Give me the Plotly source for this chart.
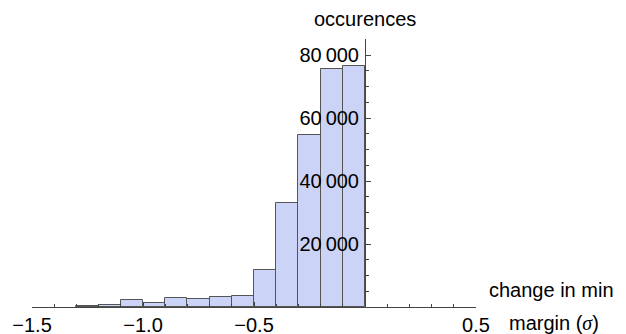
import plotly.graph_objects as go

# Data
bin_left = [-1.3, -1.2, -1.1, -1.0, -0.9, -0.8, -0.7, -0.6, -0.5, -0.4, -0.3, -0.2, -0.1]
bin_width = 0.1
counts = [200, 730, 2200, 1370, 2860, 2630, 3170, 3590, 11600, 33000, 54600, 75500, 76400]

x_tickvals = [-1.5, -1.0, -0.5, 0.5]
x_ticktext = ["\u22121.5", "\u22121.0", "\u22120.5", "0.5"]
y_tickvals = [20000, 40000, 60000, 80000]
y_ticktext = ["20\u2009000", "40\u2009000", "60\u2009000", "80\u2009000"]

centers = [b + bin_width / 2 for b in bin_left]

FONT = "Liberation Sans, Arial, sans-serif"
FS = 20
AX = "#444444"

fig = go.Figure()
fig.add_trace(go.Bar(
    x=centers, y=counts, width=[bin_width] * len(counts),
    marker=dict(color="#CBD3F6", line=dict(color="#555555", width=1)),
    hoverinfo="x+y",
))

fig.update_layout(
    width=626, height=334,
    margin=dict(l=32, r=150, t=39, b=27, autoexpand=False),
    plot_bgcolor="white", paper_bgcolor="white",
    showlegend=False,
    bargap=0,
    font=dict(family=FONT, size=FS, color="black"),
    xaxis=dict(
        range=[-1.5, 0.5], showgrid=False, zeroline=False, automargin=False,
        showline=True, linecolor=AX, linewidth=1,
        tickmode="array", tickvals=x_tickvals, ticktext=x_ticktext,
        ticks="inside", ticklen=5, tickcolor=AX, tickwidth=1,
        minor=dict(tickmode="linear", tick0=0, dtick=0.1, ticks="inside",
                   ticklen=3, tickcolor=AX, tickwidth=1, showgrid=False),
        tickfont=dict(family=FONT, size=FS, color="black"),
        ticklabelstandoff=0,
    ),
    yaxis=dict(
        range=[0, 85080], showgrid=False, zeroline=False, automargin=False,
        anchor="free", position=0.75, side="left",
        showline=True, linecolor=AX, linewidth=1,
        tickmode="array", tickvals=y_tickvals, ticktext=y_ticktext,
        ticks="inside", ticklen=5, tickcolor=AX, tickwidth=1,
        minor=dict(tickmode="linear", tick0=0, dtick=5000, ticks="inside",
                   ticklen=3, tickcolor=AX, tickwidth=1, showgrid=False),
        tickfont=dict(family=FONT, size=FS, color="black"),
        ticklabelstandoff=2,
    ),
)

fig.add_annotation(x=0, xref="x", y=1, yref="paper", yanchor="middle",
                   yshift=20, text="occurences", showarrow=False,
                   font=dict(family=FONT, size=FS, color="black"))
fig.add_annotation(x=1, xref="paper", y=0, yref="y", xanchor="left",
                   yanchor="middle", xshift=11, yshift=17,
                   text="change in min", showarrow=False,
                   font=dict(family=FONT, size=FS, color="black"))
fig.add_annotation(x=1, xref="paper", y=0, yref="y", xanchor="left",
                   yanchor="middle", xshift=31, yshift=-16,
                   text="margin (<i><span style='font-family:Liberation Serif'>\u03c3</span></i>)",
                   showarrow=False,
                   font=dict(family=FONT, size=FS, color="black"))

fig.write_html("out.html", config={"displayModeBar": False},
               post_script="document.body.style.margin='0';document.body.style.overflow='hidden';")
